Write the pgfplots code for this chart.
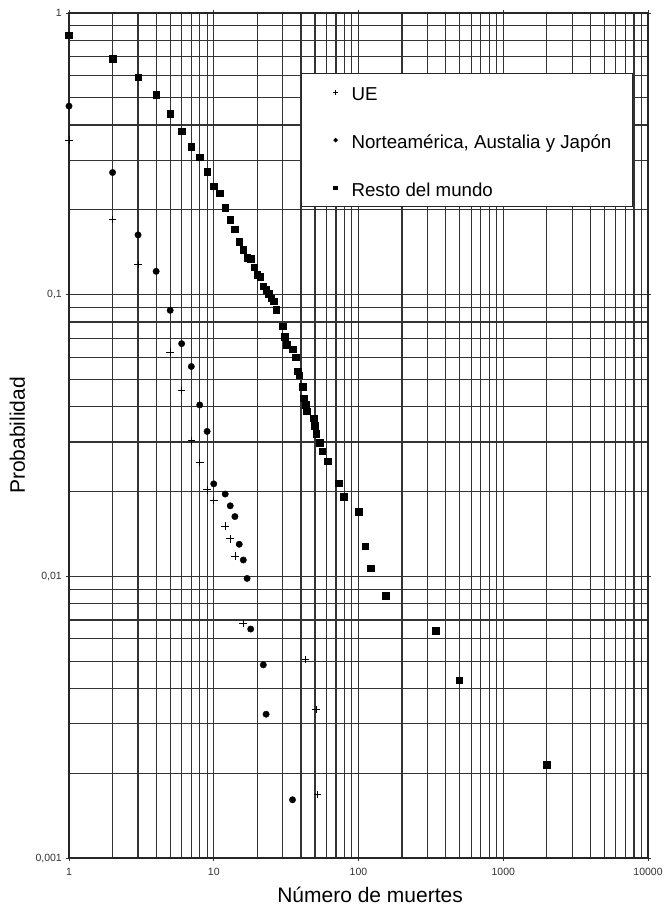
\documentclass[border=0pt]{standalone}
\usepackage{fontspec}
\setmainfont{Liberation Sans}
\usepackage{pgfplots}
\pgfplotsset{compat=1.18}

\pgfplotsset{
  legue/.style={legend image code/.code={\path (0pt,0pt) (16pt,0pt); \draw[##1, mark size=2.5pt, line width=0.6pt] plot coordinates {(12.7pt,0pt)};}},
  legna/.style={legend image code/.code={\path (0pt,0pt) (16pt,0pt); \draw[##1, mark size=1.6pt] plot coordinates {(12.7pt,0pt)};}},
  legrm/.style={legend image code/.code={\path (0pt,0pt) (16pt,0pt); \draw[##1, mark size=1.8pt] plot coordinates {(12.7pt,0pt)};}},
}

\pgfplotstableread{
x y
1 0.835
2 0.688
3 0.591
4 0.514
5 0.440
6 0.380
7 0.335
8 0.308
9 0.273
10 0.243
11 0.229
12 0.204
13 0.185
14 0.171
15 0.154
16 0.1445
17 0.135
18 0.134
19 0.125
20 0.118
21 0.116
22 0.107
23 0.104
24 0.1008
25 0.0973
26 0.0949
27 0.0885
30 0.0772
31 0.0711
32 0.0664
35 0.0641
37 0.060
38 0.0535
39 0.0517
41 0.0472
42 0.0429
43 0.0407
44 0.0386
49 0.0364
50 0.0343
51 0.0321
54 0.0298
56 0.0278
61 0.0256
73 0.0214
79 0.0192
100 0.0170
111 0.0128
121 0.0107
154 0.00853
341 0.0064
497 0.00428
1995 0.00214
}\resto

\pgfplotstableread{
x y
1 0.467
2 0.2715
3 0.163
4 0.121
5 0.088
6 0.067
7 0.0556
8 0.0406
9 0.0327
10 0.0213
12 0.0196
13 0.0178
14 0.0163
15 0.0130
16 0.01143
17 0.00983
18 0.0065
22 0.00485
23 0.00324
35 0.00161
}\norte

\pgfplotstableread{
x y
1 0.354
2 0.185
3 0.128
5 0.0625
6 0.0457
7 0.0303
8 0.0254
9 0.0203
10 0.0186
12 0.0151
13 0.0136
14 0.0118
16 0.0068
43 0.00506
51 0.00337
52 0.00168
}\ue

\begin{document}
\begin{tikzpicture}
\begin{axis}[
  name=ax,
  scale only axis,
  width=579pt, height=845pt,
  xmode=log, ymode=log,
  xmin=1, xmax=10000, ymin=0.001, ymax=1,
  grid=both,
  major grid style={draw=black!80, line width=1.2pt},
  minor grid style={draw=black!80, line width=1.2pt},
  axis line style={draw=black!85, line width=1.3pt},
  xtick={1,10,100,1000,10000},
  xticklabels={1,10,100,1000,10000},
  ytick={0.001,0.01,0.1,1},
  yticklabels={{0,001},{0,01},{0,1},1},
  tick align=outside,
  major tick length=3pt,
  minor tick length=0pt,
  tick style={black!80, line width=0.8pt},
  /pgf/number format/assume math mode=true,
  ticklabel style={font=\fontsize{10.5}{12}\selectfont, text=black!80},
  xticklabel style={inner sep=0pt, anchor=north, yshift=-7pt},
  yticklabel style={inner sep=0pt, anchor=east, xshift=-4pt},
  clip mode=individual,
  xlabel={Número de muertes},
  ylabel={Probabilidad},
  label style={font=\fontsize{21}{25}\selectfont},
  xlabel style={at={(axis description cs:0.52,0)}, anchor=base, yshift=-44pt},
  ylabel style={at={(axis description cs:-0.076,0.5)}, anchor=base},
  legend style={at={(0.974,0.929)}, anchor=north east, draw=black!85, line width=1.2pt,
    fill=white, inner xsep=21pt, inner ysep=8.5pt, row sep=28pt, column sep=12pt,
    font=\fontsize{18.7}{22}\selectfont,
    nodes={inner sep=0pt, text height=18pt, text depth=2pt}},
  legend cell align=left,
]
\addplot[only marks, mark=+, mark size=3.8pt, line width=0.8pt, black, legue]
  table[x=x,y=y] {\ue};
\addlegendentry{UE}
\addplot[only marks, mark=*, mark size=3.2pt, black, legna]
  table[x=x,y=y] {\norte};
\addlegendentry{Norteamérica, Austalia y Japón}
\addplot[only marks, mark=square*, mark size=3.3pt, black, legrm]
  table[x=x,y=y] {\resto};
\addlegendentry{Resto del mundo}
\end{axis}
\pgfresetboundingbox
\path (ax.south west) ++(-69pt,-50pt) rectangle ++(664pt,908pt);
\end{tikzpicture}
\end{document}
